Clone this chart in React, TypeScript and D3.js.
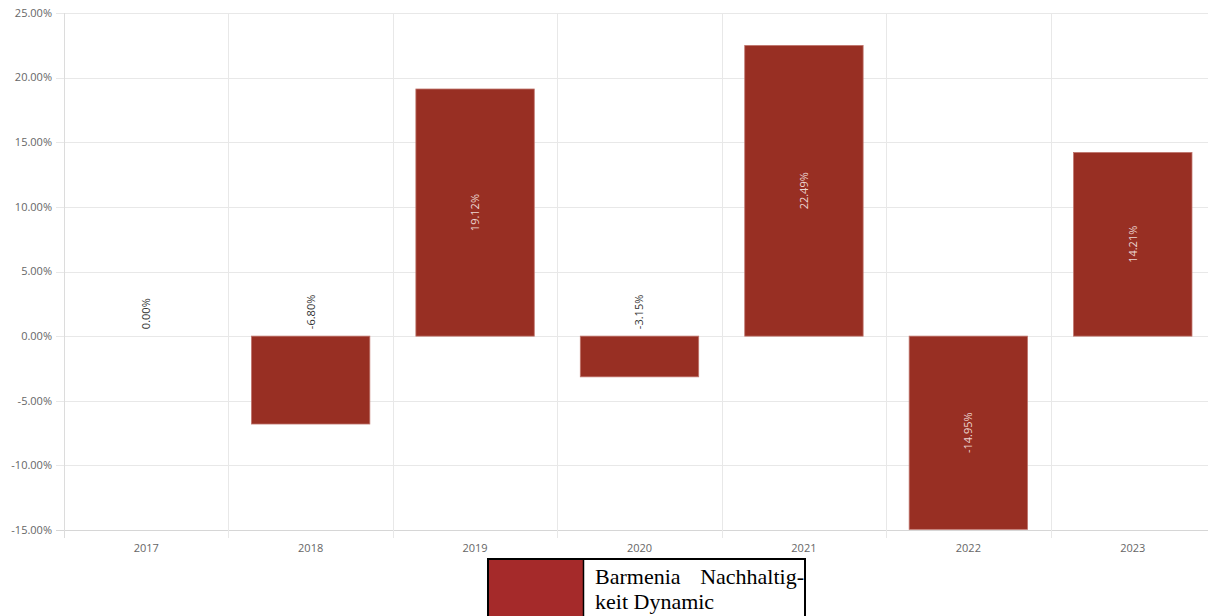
import * as d3 from 'd3';
import React, { useEffect, useRef } from 'react';

const years = ['2017', '2018', '2019', '2020', '2021', '2022', '2023'];
const returns = [0.0, -6.8, 19.12, -3.15, 22.49, -14.95, 14.21];
const yTicks = [25, 20, 15, 10, 5, 0, -5, -10, -15];
const seriesName = ['Barmenia  Nachhaltig-', 'keit Dynamic'];

const App: React.FC = () => {
    const ref = useRef<SVGSVGElement | null>(null);

    useEffect(() => {
        const width = 1208;
        const height = 616;
        const margin = { top: 13, left: 64, right: 1215, bottom: 530 };
        const font = '"Open Sans", "Noto Sans", sans-serif';
        const serif = '"Liberation Serif", "Times New Roman", serif';

        const svg = d3.select(ref.current);
        svg.selectAll('*').remove();

        const x = d3
            .scaleBand()
            .domain(years)
            .range([margin.left, margin.right])
            .paddingInner(0)
            .paddingOuter(0);

        const y = d3
            .scaleLinear()
            .domain([-15, 25])
            .range([margin.bottom, margin.top]);

        // horizontal grid
        svg.append('g')
            .selectAll('line')
            .data(yTicks)
            .join('line')
            .attr('x1', margin.left - 8)
            .attr('x2', margin.right)
            .attr('y1', (d) => Math.round(y(d)) + 0.5)
            .attr('y2', (d) => Math.round(y(d)) + 0.5)
            .attr('stroke', (d) => (d === -15 ? '#d6d6d6' : '#e8e8e8'))
            .attr('stroke-width', 1);

        // vertical grid
        svg.append('g')
            .selectAll('line')
            .data(years)
            .join('line')
            .attr('x1', (d) => Math.round(x(d)!) + 0.5)
            .attr('x2', (d) => Math.round(x(d)!) + 0.5)
            .attr('y1', margin.top)
            .attr('y2', margin.bottom + 8)
            .attr('stroke', (d, i) => (i === 0 ? '#dcdcdc' : '#e8e8e8'))
            .attr('stroke-width', 1);

        // y labels
        svg.append('g')
            .selectAll('text')
            .data(yTicks)
            .join('text')
            .attr('x', 52)
            .attr('y', (d) => y(d))
            .attr('dy', '0.35em')
            .attr('text-anchor', 'end')
            .style('font-family', font)
            .style('font-size', '11px')
            .attr('fill', '#666')
            .text((d) => `${d.toFixed(2)}%`);

        // x labels
        svg.append('g')
            .selectAll('text')
            .data(years)
            .join('text')
            .attr('x', (d) => x(d)! + x.bandwidth() / 2)
            .attr('y', 548)
            .attr('dy', '0.35em')
            .attr('text-anchor', 'middle')
            .style('font-family', font)
            .style('font-size', '11px')
            .attr('fill', '#666')
            .text((d) => d);

        // bars
        const barW = x.bandwidth() * 0.72;
        const rows = years.map((yr, i) => ({ yr, v: returns[i] }));

        svg.append('g')
            .selectAll('rect')
            .data(rows.filter((d) => d.v !== 0))
            .join('rect')
            .attr('x', (d) => x(d.yr)! + (x.bandwidth() - barW) / 2)
            .attr('y', (d) => y(Math.max(0, d.v)))
            .attr('width', barW)
            .attr('height', (d) => Math.abs(y(d.v) - y(0)))
            .attr('fill', '#982f23')
            .attr('stroke', '#bf746c')
            .attr('stroke-width', 0.8);

        // value labels: inside tall bars, above the zero line otherwise
        svg.append('g')
            .selectAll('text')
            .data(rows)
            .join('text')
            .each(function (d) {
                const cx = x(d.yr)! + x.bandwidth() / 2;
                const h = Math.abs(y(d.v) - y(0));
                const inside = h > 100;
                const cy = inside ? (y(d.v) + y(0)) / 2 : y(0) - 7;
                d3.select(this)
                    .attr('transform', `translate(${cx},${cy}) rotate(-90)`)
                    .attr('text-anchor', inside ? 'middle' : 'start')
                    .attr('dy', '0.35em')
                    .attr('fill', inside ? '#ecd6d2' : '#333');
            })
            .style('font-family', font)
            .style('font-size', '11px')
            .text((d) => `${d.v.toFixed(2)}%`);

        // legend
        const legend = svg.append('g');
        legend
            .append('rect')
            .attr('x', 488)
            .attr('y', 559)
            .attr('width', 317)
            .attr('height', 70)
            .attr('fill', '#fff')
            .attr('stroke', '#000')
            .attr('stroke-width', 2);
        legend
            .append('rect')
            .attr('x', 489)
            .attr('y', 560)
            .attr('width', 94)
            .attr('height', 68)
            .attr('fill', '#a52a2a');
        legend
            .append('line')
            .attr('x1', 583.5)
            .attr('x2', 583.5)
            .attr('y1', 559)
            .attr('y2', 630)
            .attr('stroke', '#000')
            .attr('stroke-width', 1.5);

        const words = seriesName[0].split(/\s+/);
        legend
            .append('text')
            .attr('x', 595)
            .attr('y', 584)
            .style('font-family', serif)
            .style('font-size', '22px')
            .attr('fill', '#000')
            .text(words[0]);
        legend
            .append('text')
            .attr('x', 804)
            .attr('y', 584)
            .attr('text-anchor', 'end')
            .style('font-family', serif)
            .style('font-size', '22px')
            .attr('fill', '#000')
            .text(words[1]);
        legend
            .append('text')
            .attr('x', 595)
            .attr('y', 609)
            .style('font-family', serif)
            .style('font-size', '22px')
            .attr('fill', '#000')
            .text(seriesName[1]);

        svg.attr('width', width).attr('height', height);
    }, []);

    return (
        <svg
            ref={ref}
            style={{ position: 'absolute', left: 0, top: 0, display: 'block', overflow: 'hidden' }}
        ></svg>
    );
};

export default App;
